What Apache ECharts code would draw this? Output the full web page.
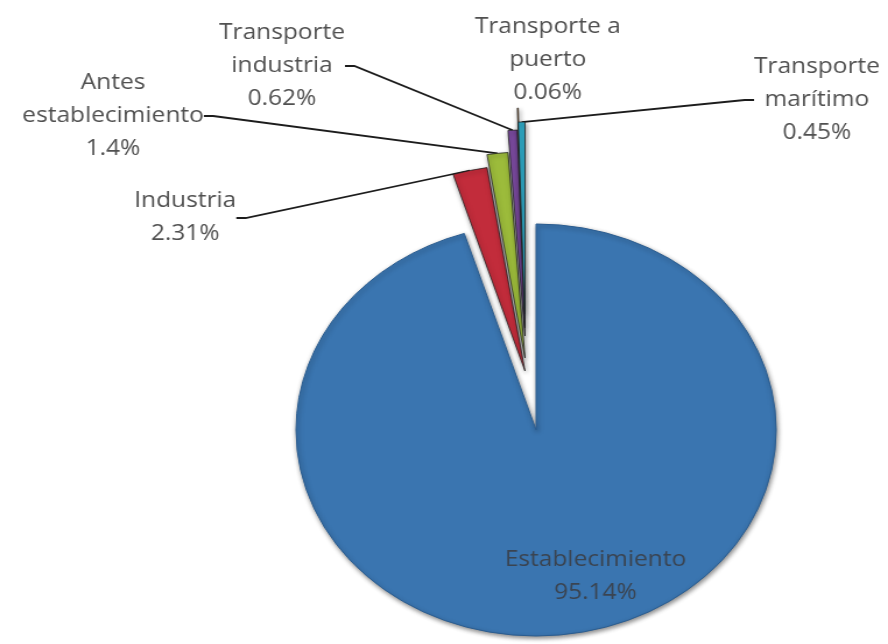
<!DOCTYPE html>
<html>
<head>
<meta charset="utf-8">
<script src="https://cdn.jsdelivr.net/npm/echarts@6/dist/echarts.min.js"></script>
<style>
  html, body { margin: 0; padding: 0; background: #ffffff; overflow: hidden; }
  /* the chart is drawn narrower and widened, so the pie comes out as an ellipse */
  #chart { width: 762px; height: 644px; transform: scaleX(1.1654); transform-origin: 0 0; }
</style>
</head>
<body>
<div id="chart"></div>
<script>
// Shares of each stage, in percent, clockwise from 12 o'clock
const categories = ['Establecimiento', 'Industria', 'Antes establecimiento',
                    'Transporte industria', 'Transporte a puerto', 'Transporte marítimo'];
const shares = [95.14, 2.31, 1.4, 0.62, 0.06, 0.45];

// Styling (kept apart from the data)
const sliceColors = ['#3a75b0', '#c22c3b', '#9cbb3b', '#7b4b9f', '#f29a4a', '#2fa7c3'];
const liftBy      = [0, 59, 72, 94, 116, 102];      // how far each small slice is pulled up
const leaderShown = [false, true, true, true, false, true];
const labelSpots  = [[511, 577], [159, 218], [97, 116], [242, 66], [470, 60], [701, 100]];
const labelPadTop = [0, 0, 0, 0, 0, 66];
const PIE_CENTER = [460, 430];
const PULLED_SHIFT_X = -9.5;
const PIE_RADIUS = 206;

const labelText = p => p.name.replace(/ (?=\S+$)/, '\n') + '\n' + p.value + '%';

function sliceCenter(i) {
  if (liftBy[i] === 0) return PIE_CENTER;
  return [PIE_CENTER[0] + PULLED_SHIFT_X, PIE_CENTER[1] - liftBy[i]];
}

// one pie series per slice, so each slice can be pulled out by its own distance
const series = categories.map((_, i) => ({
  type: 'pie',
  center: sliceCenter(i),
  radius: PIE_RADIUS,
  startAngle: 90,
  clockwise: true,
  avoidLabelOverlap: false,
  animation: false,
  silent: true,
  z: i === 0 ? 2 : 3 + i,
  label: {
    position: i === 0 ? 'inside' : 'outside',
    formatter: labelText,
    fontFamily: 'Open Sans',
    fontSize: 21,
    lineHeight: 33,
    padding: [labelPadTop[i], 0, 0, 0],
    color: i === 0 ? '#3a4451' : '#505050'
  },
  labelLine: {
    show: leaderShown[i],
    length: 10,
    length2: 8,
    smooth: false,
    lineStyle: { color: '#1c1c1c', width: 1.8 }
  },
  labelLayout: p => ({
    x: labelSpots[p.dataIndex][0],
    y: labelSpots[p.dataIndex][1],
    align: 'center',
    verticalAlign: 'middle'
  }),
  emphasis: { disabled: true },
  data: categories.map((name, j) => ({
    name: name,
    value: shares[j],
    itemStyle: j === i
      ? {
          color: sliceColors[j],
          borderColor: j === 0 ? '#2b5d90' : 'rgba(30,30,30,0.75)',
          borderWidth: 1,
          shadowBlur: 4,
          shadowColor: 'rgba(0,0,0,0.45)',
          shadowOffsetX: 1,
          shadowOffsetY: 2
        }
      : { color: 'rgba(0,0,0,0)', opacity: 0, borderWidth: 0 },
    label: { show: j === i },
    labelLine: { show: j === i && leaderShown[i] }
  }))
}));

const chart = echarts.init(document.getElementById('chart'), null, { renderer: 'canvas' });
chart.setOption({
  backgroundColor: '#ffffff',
  series: series
});
</script>
</body>
</html>
